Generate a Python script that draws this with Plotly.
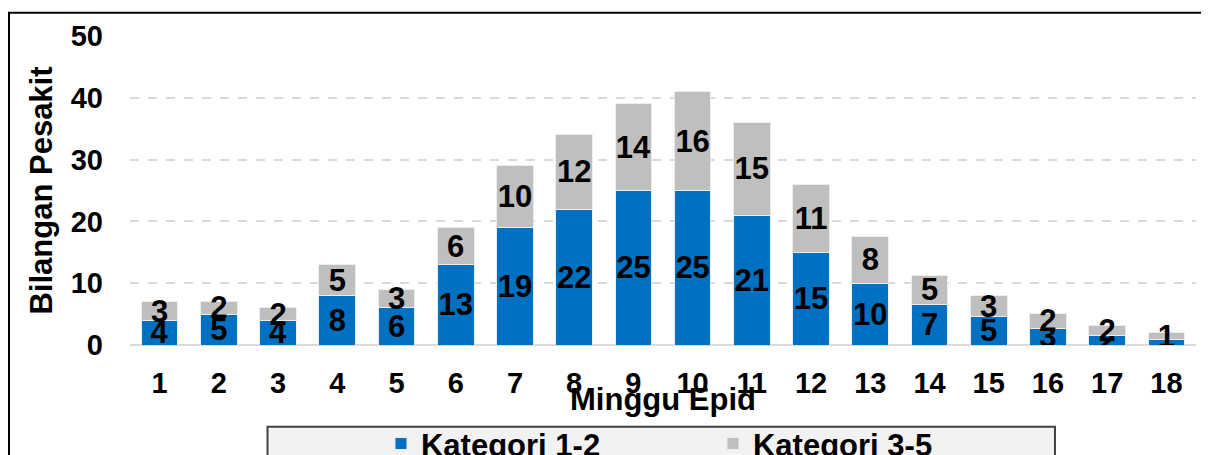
import plotly.graph_objects as go

# Epid weeks and patient counts per category (later weeks are estimates, so not whole numbers)
weeks = [str(w) for w in range(1, 19)]
kategori_1_2 = [4, 5, 4, 8, 6, 13, 19, 22, 25, 25, 21, 15, 10.0, 6.6, 4.6, 2.7, 1.6, 0.9]
kategori_3_5 = [3, 2, 2, 5, 3, 6, 10, 12, 14, 16, 15, 11, 7.6, 4.6, 3.4, 2.4, 1.5, 1.1]

FONT = "Arial, Liberation Sans, sans-serif"

fig = go.Figure()

# Blue bars (Kategori 1-2) sit at the bottom of the stack
fig.add_trace(go.Bar(
    x=weeks, y=kategori_1_2, name="Kategori 1-2",
    marker=dict(color="#0070C0", line=dict(width=1, color="#E8EEF6")),
    texttemplate="%{y:.0f}", textposition="inside", insidetextanchor="middle",
    textangle=0, textfont=dict(family=FONT, size=31, color="black", weight="bold"),
))

# Grey bars (Kategori 3-5) on top
fig.add_trace(go.Bar(
    x=weeks, y=kategori_3_5, name="Kategori 3-5",
    marker=dict(color="#BFBFBF", line=dict(width=1, color="#EEEEEE")),
    texttemplate="%{y:.0f}", textposition="inside", insidetextanchor="middle",
    textangle=0, textfont=dict(family=FONT, size=31, color="black", weight="bold"),
))

# the page body adds an 8px offset, so margins are trimmed by that amount
fig.update_layout(
    barmode="stack",
    bargap=0.38,
    width=1209, height=455,
    margin=dict(l=122, r=21, t=28, b=118),
    paper_bgcolor="white", plot_bgcolor="white",
    font=dict(family=FONT, color="black"),
    uniformtext=dict(minsize=31, mode="show"),
    showlegend=True,
    legend=dict(
        orientation="h", xref="container", yref="container",
        x=0.3085, xanchor="left", y=0.042, yanchor="middle",
        bgcolor="rgba(0,0,0,0)", borderwidth=0,
        font=dict(family=FONT, size=31, color="black", weight="bold"),
        entrywidth=287, entrywidthmode="pixels", traceorder="normal",
    ),
    xaxis=dict(
        title=dict(text="Minggu Epid", font=dict(family=FONT, size=31, weight="bold"), standoff=5),
        tickfont=dict(family=FONT, size=29, weight="bold"),
        ticklabelstandoff=18, showgrid=False, showline=False, ticks="",
        automargin=False,
    ),
    yaxis=dict(
        title=dict(text="Bilangan Pesakit", font=dict(family=FONT, size=31, weight="bold"), standoff=8),
        tickfont=dict(family=FONT, size=29, weight="bold"),
        range=[0, 50], dtick=10, ticklabelstandoff=26,
        showgrid=True, gridcolor="#D9D9D9", gridwidth=1.5, griddash="dash",
        zeroline=True, zerolinecolor="#D9D9D9", zerolinewidth=2,
        automargin=False,
    ),
    shapes=[
        # outer chart frame (right and bottom edges fall outside the picture)
        dict(type="rect", xref="paper", yref="paper", x0=-0.1135, x1=1.2, y0=-0.6, y1=1.075,
             line=dict(color="black", width=2), fillcolor="rgba(0,0,0,0)", layer="below"),
        # legend box
        dict(type="rect", xref="paper", yref="paper", x0=0.129, x1=0.8677, y0=-0.6, y1=-0.2644,
             line=dict(color="#404040", width=2), fillcolor="#F2F2F2", layer="below"),
    ],
)

fig.write_html("out.html")
